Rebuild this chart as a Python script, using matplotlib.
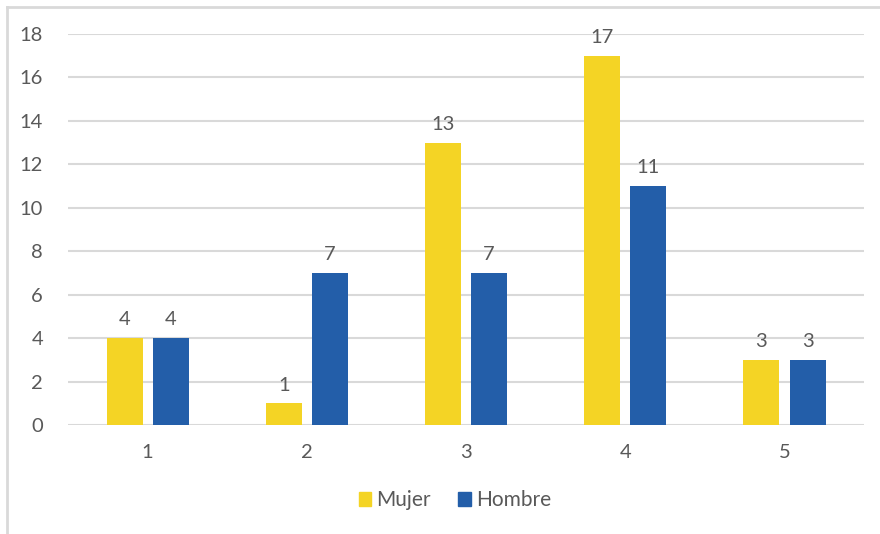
import matplotlib
matplotlib.use("Agg")
import matplotlib.pyplot as plt
from matplotlib.lines import Line2D
from matplotlib.patches import Patch
import numpy as np

categories = ["1", "2", "3", "4", "5"]
mujer = [4, 1, 13, 17, 3]
hombre = [4, 7, 7, 11, 3]

YELLOW = "#F4D425"
BLUE = "#235EA9"
TEXT = "#595959"
GRID = "#D9D9D9"

plt.rcParams["font.family"] = ["Lato", "DejaVu Sans"]

fig = plt.figure(figsize=(8.8, 5.34), dpi=100)
ax = fig.add_axes([0.0773, 0.2041, 0.9047, 0.7322])

x = np.arange(len(categories))
w = 0.226
off = 0.145
b1 = ax.bar(x - off, mujer, w, color=YELLOW, zorder=3)
b2 = ax.bar(x + off, hombre, w, color=BLUE, zorder=3)

for bars, vals in ((b1, mujer), (b2, hombre)):
    for rect, v in zip(bars, vals):
        ax.text(rect.get_x() + rect.get_width() / 2, v + 0.45, str(v),
                ha="center", va="bottom", fontsize=14.5, color=TEXT)

ax.set_xlim(-0.5, len(categories) - 0.5)
ax.set_ylim(0, 18)
ax.set_yticks(range(0, 19, 2))
ax.set_xticks(x)
ax.set_xticklabels(categories)
ax.yaxis.grid(True, color=GRID, linewidth=1.5, zorder=0)
ax.tick_params(axis="both", length=0, labelsize=14.5, colors=TEXT)
ax.tick_params(axis="y", pad=18)
ax.tick_params(axis="x", pad=14)
for s in ax.spines.values():
    s.set_visible(False)

handles = [Patch(color=YELLOW, label="Mujer"), Patch(color=BLUE, label="Hombre")]
fig.legend(handles=handles, loc="center", bbox_to_anchor=(0.517, 0.063), ncol=2,
           frameon=False, fontsize=15, handlelength=0.6, handleheight=0.6,
           handletextpad=0.25, columnspacing=1.3, labelcolor=TEXT)

# chart frame (top and left edges visible)
fig.add_artist(Line2D([7 / 880, 1], [1 - 7 / 534, 1 - 7 / 534], color=GRID, lw=2))
fig.add_artist(Line2D([7 / 880, 7 / 880], [0, 1 - 7 / 534], color=GRID, lw=2))

fig.savefig("out.png", dpi=100)
